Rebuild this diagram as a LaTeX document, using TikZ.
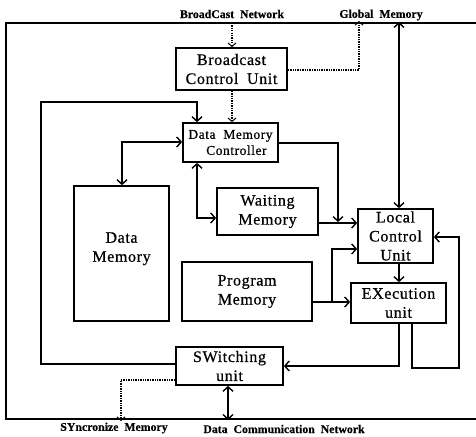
\documentclass[tikz,border=0pt]{standalone}
\usepackage{fontspec}
\setmainfont{Liberation Serif}
\newfontfamily\boxfont{Liberation Serif}[LetterSpace=4,FakeBold=0.6]
\newfontfamily\portfont{Liberation Serif}[FakeBold=0.4]
\usetikzlibrary{arrows.meta}
\begin{document}
\begin{tikzpicture}[x=1pt,y=-1pt,
  unitbox/.style={draw,line width=1.7pt,inner sep=0pt,align=center,
    font=\boxfont\fontsize{16}{19}\selectfont},
  smallbox/.style={unitbox,font=\boxfont\fontsize{13.5}{16}\selectfont},
  link/.style={line width=1.4pt,-{Straight Barb[length=4.5pt,width=10pt,line width=1.4pt]}},
  biglink/.style={link,{Straight Barb[length=4.5pt,width=10pt,line width=1.4pt]}-{Straight Barb[length=4.5pt,width=10pt,line width=1.4pt]}},
  ctrl/.style={line width=1.4pt,dash pattern=on 1.3pt off 1.1pt,
    -{Straight Barb[length=3.5pt,width=8pt,line width=1pt]}},
  frameline/.style={line width=2.2pt},
  extlabel/.style={font=\portfont\bfseries\fontsize{11.8}{14}\selectfont,inner sep=0pt}]
\useasboundingbox (0,0) rectangle (476,436);

% outer frame (open to the right)
\draw[frameline] (476,23) -- (6,23) -- (6,419) -- (476,419);

% external labels
\node[extlabel] (bcn) at (232,14) {BroadCast\ \ Network};
\node[extlabel] (gml) at (381,15) {Global\ \ Memory};
\node[extlabel] (sml) at (114,428) {SYncronize\ \ Memory};
\node[extlabel] (dcn) at (284,429) {Data\ \ Communication\ \ Network};

% functional units
\node[unitbox,minimum width=111pt,minimum height=42pt] (bcu) at (231.5,69) {Broadcast\\Control\hspace{4pt} Unit};
\node[smallbox,minimum width=95pt,minimum height=39pt] (dmc) at (230.5,142.5) {Data\ \ Memory\\\ \ \ Controller};
\node[unitbox,minimum width=95pt,minimum height=135pt] (dm) at (121.5,253.5) {Data\\Memory\\[-6pt]};
\node[unitbox,minimum width=101pt,minimum height=47pt] (wm) at (267.5,211.5) {Waiting\\Memory};
\node[unitbox,minimum width=130pt,minimum height=59pt] (pm) at (247,291.5) {Program\\Memory};
\node[unitbox,minimum width=75pt,minimum height=54pt] (lcu) at (395.5,236) {Local\\Control\\Unit};
\node[unitbox,minimum width=95pt,minimum height=40pt] (ex) at (398.5,303) {EXecution\\unit};
\node[unitbox,minimum width=107pt,minimum height=38pt] (sw) at (229.5,366) {SWitching\\unit};

% attachment points on the frame
\coordinate (bcnin) at (232,23);
\coordinate (gmdot) at (359,23);
\coordinate (gmport) at (399,23);
\coordinate (smport) at (121,419);
\coordinate (dcport) at (228,419);

% broadcast network control (dotted)
\draw[ctrl] (bcnin) -- (bcu.north -| bcnin);
\draw[ctrl] (bcu.south -| bcnin) -- (dmc.north -| bcnin);
\draw[ctrl] (bcu.east |- 0,70) -| ([yshift=2pt]gmdot);

% global memory port
\draw[biglink] (lcu.north -| gmport) -- ([yshift=1pt]gmport);

% feedback from switching unit to data memory controller
\draw[link] (sw.west |- 0,364) -- (41,364) -- (41,102) -| (dmc.north -| 197,0);

% data memory <-> controller
\draw[biglink] (dm.north -| 122,0) |- (dmc.west |- 0,142);
% controller <-> waiting memory
\draw[biglink] (dmc.south -| 197,0) |- (wm.west |- 0,218);
% controller and waiting memory into local control unit
\draw[link] (dmc.east |- 0,143) -| (338,222);
\draw[link] (wm.east |- 0,223) -- (lcu.west |- 0,223);

% program memory to execution and local control
\draw[link] (pm.east |- 0,302) -- (ex.west |- 0,302);
\coordinate (br) at (332,302);
\draw[link] (br) |- (lcu.west |- 0,249);

% local control -> execution
\draw[link] (lcu.south -| 399,0) -- (ex.north -| 399,0);

% execution results
\draw[link] (ex.south -| 399,0) |- (sw.east |- 0,366);
\draw[link] (ex.south -| 412,0) |- (459,368) |- (lcu.east |- 0,237);

% switching unit ports
\draw[ctrl] (sw.west |- 0,380) -| ([yshift=-2pt]smport);
\draw[biglink] (sw.south -| dcport) -- ([yshift=-1pt]dcport);
\end{tikzpicture}
\end{document}
